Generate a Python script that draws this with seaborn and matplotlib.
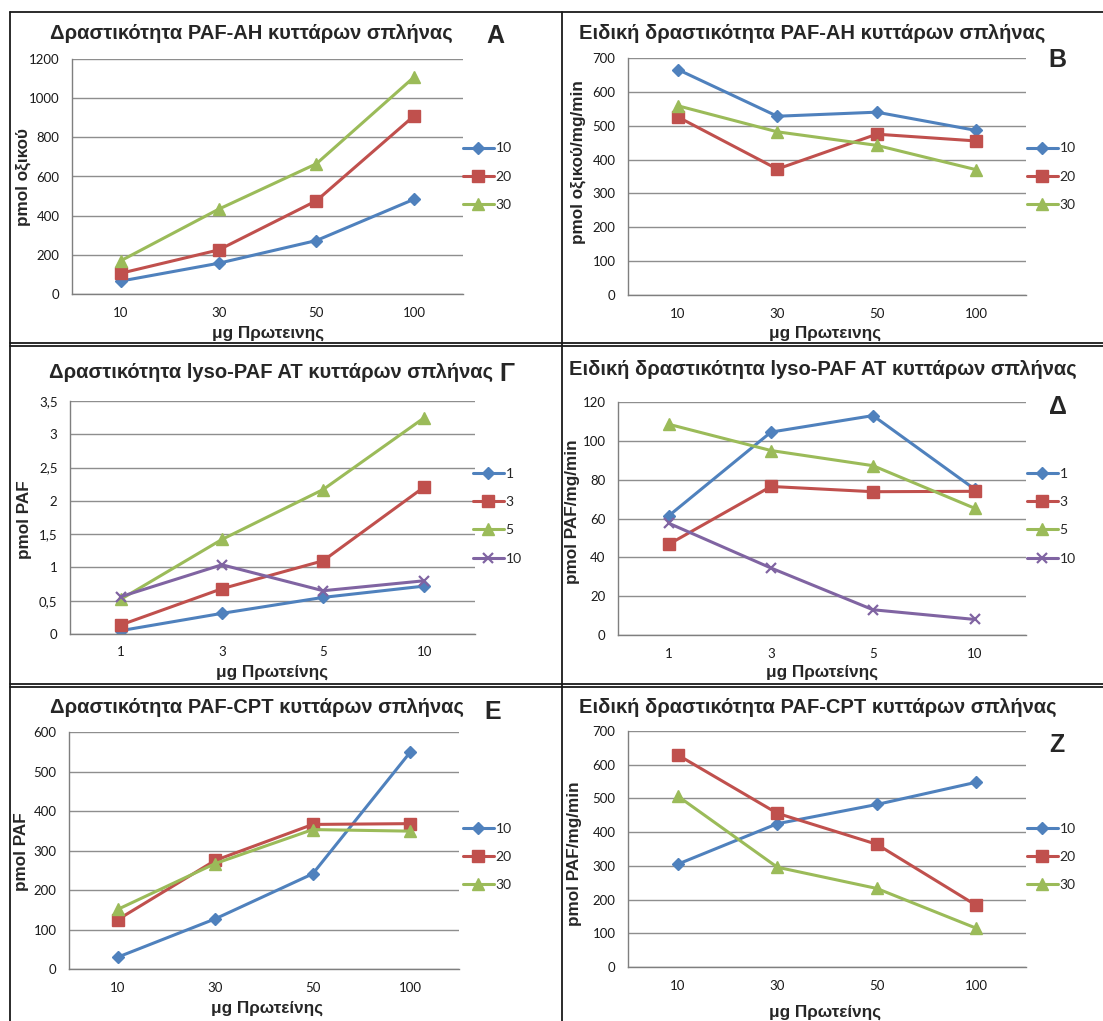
import numpy as np
import pandas as pd
import matplotlib
matplotlib.use("Agg")
import matplotlib.pyplot as plt
from matplotlib.lines import Line2D
import seaborn as sns

# ---- data -------------------------------------------------------------
protein_std = ["10", "30", "50", "100"]      # μg protein, PAF-AH / PAF-CPT assays
protein_lyso = ["1", "3", "5", "10"]         # μg protein, lyso-PAF AT assay

series_std = ["10", "20", "30"]
series_lyso = ["1", "3", "5", "10"]

# PAF-AH activity (pmol acetate)
pafah_act_10 = [66, 157, 273, 484]
pafah_act_20 = [106, 225, 476, 910]
pafah_act_30 = [170, 433, 665, 1108]

# PAF-AH specific activity (pmol acetate/mg/min)
pafah_spec_10 = [666, 528, 540, 486]
pafah_spec_20 = [526, 372, 475, 455]
pafah_spec_30 = [559, 482, 442, 370]

# lyso-PAF AT activity (pmol PAF)
lyso_act_1 = [0.05, 0.31, 0.55, 0.72]
lyso_act_3 = [0.135, 0.68, 1.10, 2.21]
lyso_act_5 = [0.52, 1.42, 2.17, 3.25]
lyso_act_10 = [0.56, 1.04, 0.65, 0.80]

# lyso-PAF AT specific activity (pmol PAF/mg/min)
lyso_spec_1 = [61.5, 104.5, 113.0, 75.0]
lyso_spec_3 = [46.8, 76.5, 73.8, 74.0]
lyso_spec_5 = [108.5, 95.0, 87.2, 65.2]
lyso_spec_10 = [57.5, 34.5, 13.0, 8.0]

# PAF-CPT activity (pmol PAF)
cpt_act_10 = [30, 127, 241, 549]
cpt_act_20 = [125, 275, 366, 368]
cpt_act_30 = [151, 267, 353, 349]

# PAF-CPT specific activity (pmol PAF/mg/min)
cpt_spec_10 = [305, 425, 482, 548]
cpt_spec_20 = [629, 456, 364, 183]
cpt_spec_30 = [507, 296, 233, 115]

# ---- style ------------------------------------------------------------
sns.set_style("white")
plt.rcParams["font.family"] = ["Liberation Sans", "DejaVu Sans"]

COLORS = ["#4F81BD", "#C0504D", "#9BBB59", "#8064A2"]
MARKERS = ["D", "s", "^", "x"]
MSIZE = [5.8, 8.0, 8.8, 6.8]
LW = 2.2
GRID = "#8E8E8E"
TICK_FONT = ["Lato", "DejaVu Sans"]

W, H = 1103, 1021
fig = plt.figure(figsize=(W / 100, H / 100), dpi=100)


def box(x0, y0, x1, y1):
    return [x0 / W, 1 - y1 / H, (x1 - x0) / W, (y1 - y0) / H]


def ftext(x, y, s, **kw):
    fig.text(x / W, 1 - y / H, s, **kw)


panels = [
    dict(cats=protein_std, names=series_std,
         values=[pafah_act_10, pafah_act_20, pafah_act_30],
         ymax=1200, step=200, rect=(72, 59, 463, 294),
         title="Δραστικότητα PAF-AH κυττάρων σπλήνας", title_xy=(251, 33),
         letter="A", letter_xy=(495, 36),
         ylabel="pmol οξικού", ylabel_xy=(23, 177),
         xlabel="μg Πρωτεινης", xlabel_xy=(268, 333),
         leg_xy=(463, 150)),
    dict(cats=protein_std, names=series_std,
         values=[pafah_spec_10, pafah_spec_20, pafah_spec_30],
         ymax=700, step=100, rect=(628, 58, 1026, 295),
         title="Ειδική δραστικότητα PAF-AH κυττάρων σπλήνας", title_xy=(812, 33),
         letter="B", letter_xy=(1057, 60),
         ylabel="pmol οξικού/mg/min", ylabel_xy=(578, 162),
         xlabel="μg Πρωτεινης", xlabel_xy=(825, 333),
         leg_xy=(1027, 150)),
    dict(cats=protein_lyso, names=series_lyso,
         values=[lyso_act_1, lyso_act_3, lyso_act_5, lyso_act_10],
         ymax=3.5, step=0.5, rect=(70, 401, 475, 634),
         title="Δραστικότητα lyso-PAF AT κυττάρων σπλήνας", title_xy=(271, 372),
         letter="Γ", letter_xy=(507, 374),
         ylabel="pmol PAF", ylabel_xy=(25, 520),
         xlabel="μg Πρωτείνης", xlabel_xy=(272, 672),
         leg_xy=(473, 475)),
    dict(cats=protein_lyso, names=series_lyso,
         values=[lyso_spec_1, lyso_spec_3, lyso_spec_5, lyso_spec_10],
         ymax=120, step=20, rect=(618, 402, 1026, 635),
         title="Ειδική δραστικότητα lyso-PAF AT κυττάρων σπλήνας", title_xy=(823, 369),
         letter="Δ", letter_xy=(1058, 407),
         ylabel="pmol PAF/mg/min", ylabel_xy=(572, 512),
         xlabel="μg Πρωτείνης", xlabel_xy=(822, 672),
         leg_xy=(1027, 475)),
    dict(cats=protein_std, names=series_std,
         values=[cpt_act_10, cpt_act_20, cpt_act_30],
         ymax=600, step=100, rect=(69, 732, 459, 969),
         title="Δραστικότητα PAF-CPT κυττάρων σπλήνας", title_xy=(257, 707),
         letter="E", letter_xy=(493, 712),
         ylabel="pmol PAF", ylabel_xy=(22, 852),
         xlabel="μg Πρωτείνης", xlabel_xy=(267, 1008),
         leg_xy=(463, 830)),
    dict(cats=protein_std, names=series_std,
         values=[cpt_spec_10, cpt_spec_20, cpt_spec_30],
         ymax=700, step=100, rect=(628, 731, 1026, 967),
         title="Ειδική δραστικότητα PAF-CPT κυττάρων σπλήνας", title_xy=(818, 707),
         letter="Z", letter_xy=(1057, 745),
         ylabel="pmol PAF/mg/min", ylabel_xy=(575, 854),
         xlabel="μg Πρωτείνης", xlabel_xy=(825, 1012),
         leg_xy=(1027, 830)),
]


def fmt_tick(v):
    return f"{v:g}".replace(".", ",")


for p in panels:
    ax = fig.add_axes(box(*p["rect"]))
    n = len(p["names"])
    df = pd.DataFrame({
        "protein": np.tile(p["cats"], n),
        "series": np.repeat(p["names"], len(p["cats"])),
        "value": np.concatenate([np.asarray(v, float) for v in p["values"]]),
    })
    sns.pointplot(data=df, x="protein", y="value", hue="series",
                  order=p["cats"], hue_order=p["names"],
                  palette=COLORS[:n], markers=MARKERS[:n], linestyles="-",
                  errorbar=None, linewidth=LW, markeredgewidth=1.0,
                  legend=False, ax=ax)
    for i, line in enumerate(ax.lines[:n]):
        line.set_markersize(MSIZE[i])
        if MARKERS[i] == "x":
            line.set_markeredgewidth(1.6)

    ticks = np.arange(0, p["ymax"] + p["step"] / 2, p["step"])
    ax.set_ylim(0, p["ymax"])
    ax.set_xlim(-0.5, len(p["cats"]) - 0.5)
    ax.set_yticks(ticks)
    ax.set_yticklabels([fmt_tick(t) for t in ticks])
    ax.set_xlabel("")
    ax.set_ylabel("")
    ax.grid(axis="y", color=GRID, linewidth=1.0)
    ax.grid(axis="x", visible=False)
    ax.set_axisbelow(True)
    for side in ("top", "right"):
        ax.spines[side].set_visible(False)
    for side in ("left", "bottom"):
        ax.spines[side].set_color("#7F7F7F")
        ax.spines[side].set_linewidth(1.0)
    ax.tick_params(axis="y", length=0, pad=9)
    ax.tick_params(axis="x", length=0, pad=9)
    for lab in ax.get_xticklabels() + ax.get_yticklabels():
        lab.set_family(TICK_FONT)
        lab.set_fontsize(9.5)
        lab.set_color("#1a1a1a")

    handles = [Line2D([], [], color=COLORS[i], marker=MARKERS[i],
                      markersize=MSIZE[i], linewidth=LW,
                      markeredgewidth=1.6 if MARKERS[i] == "x" else 1.0)
               for i in range(n)]
    lx, ly = p["leg_xy"]
    ax.legend(handles, p["names"], loc="upper left",
              bbox_to_anchor=(lx / W, 1 - (ly - 7.5) / H),
              bbox_transform=fig.transFigure, frameon=False,
              handlelength=2.2, handletextpad=0.15, labelspacing=1.18,
              borderpad=0, borderaxespad=0,
              prop={"family": TICK_FONT, "size": 10})

    ftext(*p["title_xy"], p["title"], ha="center", va="center",
          fontsize=14.5, fontweight="bold")
    ftext(*p["letter_xy"], p["letter"], ha="center", va="center",
          fontsize=18, fontweight="bold")
    ftext(*p["ylabel_xy"], p["ylabel"], ha="center", va="center",
          rotation=90, fontsize=12.3, fontweight="bold")
    ftext(*p["xlabel_xy"], p["xlabel"], ha="center", va="center",
          fontsize=12.3, fontweight="bold")

# panel frames
frame_kw = dict(color="#1a1a1a", linewidth=1.3, transform=fig.transFigure)
segments = [
    ((10, 12), (10, H)),
    ((562, 12), (562, H)),
    ((10, 12), (W, 12)),
    ((10, 343), (W, 343)),
    ((10, 346), (W, 346)),
    ((10, 684), (W, 684)),
    ((10, 687), (W, 687)),
]
for (x0, y0), (x1, y1) in segments:
    fig.add_artist(Line2D([x0 / W, x1 / W], [1 - y0 / H, 1 - y1 / H], **frame_kw))

fig.savefig("out.png", dpi=100, facecolor="white")
